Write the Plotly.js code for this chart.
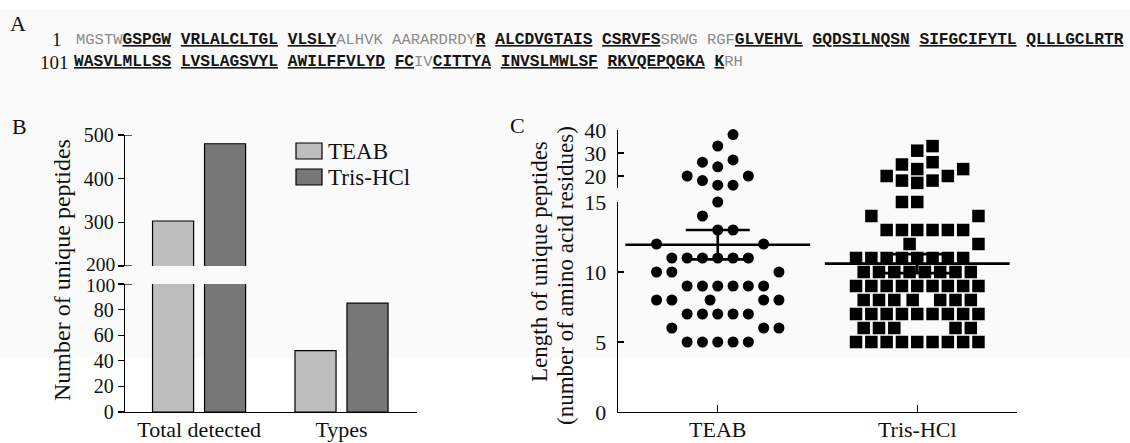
<!DOCTYPE html>
<html><head><meta charset="utf-8">
<script src="https://cdn.plot.ly/plotly-3.0.1.min.js"></script>
<style>html,body{margin:0;padding:0;background:#fff}#chart{width:1130px;height:443px}</style>
</head><body><div id="chart"></div>
<script>
// ---------- Panel B data ----------
const groups = ['Total detected', 'Types'];
const teabCounts = [303, 48];
const trisCounts = [480, 85];
const lowerTicks = [0, 20, 40, 60, 80, 100];
const lowerTickText = ['0', '20', '40', '60', '80', ''];
const upperTicks = [200, 300, 400, 500];
const upperTickText = ['', '300', '400', '500'];

// ---------- Panel C data (peptide lengths and dot-plot lane of each point) ----------
const dotCategories = ['TEAB', 'Tris-HCl'];
const teabLength = [38,33,26,24,27,20,20,18,16,16,
  15,14,13,13,12,12,
  11,11,11,11,11,11,
  10,10,10,
  9,9,9,9,9,9,
  8,8,8,8,8,
  7,7,7,7,7,
  6,6,6,
  5,5,5,5,5];
const teabLane = [1,0,-1,0,1,-2,2,-1,0,1,
  0,-1,0,1,-4,3,
  -3,-2,-1,0,1,2,
  -4,-3,4,
  -2,-1,0,1,2,3,
  -4,-3,-0.5,3,4,
  -2,-1,0,1,2,
  -3,3,4,
  -2,-1,0,1,2];
const trisLength = [33,31,25,23,26,20,20,23,18,17,18,
  15,15,14,14,
  13,13,13,13,13,13,
  12,12,
  11,11,11,11,11,11,11,11,
  10,10,10,10,10,10,10,10,
  9,9,9,9,9,9,9,9,9,
  8,8,8,8,8,8,8,
  7,7,7,7,7,7,7,7,7,
  6,6,6,6,6,
  5,5,5,5,5,5,5,5,5];
const trisLane = [1,0,-1,0,1,-2,2,3,-1,0,1,
  -1,0,-3,4,
  -2,-1,0,1,2,3,
  -0.5,4,
  -4,-3,-2,-1,0,1,2,3,
  -3.5,-2.5,-1.5,-0.5,0.5,1.5,2.5,3.5,
  -4,-3,-2,-1,0,1,2,3,4,
  -3.5,-2.5,-1.5,-0.3,1.5,2.5,3.5,
  -4,-3,-2,-1,0,1,2,3,4,
  -3.5,-2.5,-1.5,2.5,3.5,
  -4,-3,-2,-1,0,1,2,3,4];
const meanLength = [11.95, 10.6];
const semLength = [1.05, 0.68];

// ---------- Panel A sequence ----------
const seqLine1 = [['MGSTW','g'],['GSPGW','b'],[' ','s'],['VRLALCLTGL','b'],[' ','s'],['VLSLY','b'],['ALHVK AARARDRDY','g'],['R','b'],[' ','s'],
  ['ALCDVGTAIS','b'],[' ','s'],['CSRVFS','b'],['SRWG RGF','g'],['GLVEHVL','b'],[' ','s'],['GQDSILNQSN','b'],[' ','s'],['SIFGCIFYTL','b'],[' ','s'],['QLLLGCLRTR','b']];
const seqLine2 = [['WASVLMLLSS','b'],[' ','s'],['LVSLAGSVYL','b'],[' ','s'],['AWILFFVLYD','b'],[' ','s'],['FC','b'],['IV','g'],['CITTYA','b'],[' ','s'],
  ['INVSLMWLSF','b'],[' ','s'],['RKVQEPQGKA','b'],[' ','s'],['K','b'],['RH','g']];

const W = 1130, H = 443;
const px = x => x / W, py = y => 1 - y / H;
const SERIF = '"Liberation Serif", "Times New Roman", serif';

function seqHTML(parts) {
  return parts.map(([t, k]) => {
    if (k === 'b') return '<span style="font-family:\'Liberation Mono\',monospace;font-weight:bold;font-size:16.2px;text-decoration:underline;fill:#151515">' + t + '</span>';
    if (k === 'g') return '<span style="font-family:\'Liberation Mono\',monospace;font-size:15.5px;fill:#8a8a8a">' + t + '</span>';
    return '<span style="font-family:\'Liberation Mono\',monospace;font-size:16.2px">' + t + '</span>';
  }).join('');
}

const LANE = 0.0767;
const TEAB_FILL = '#bdbdbd', TRIS_FILL = '#777777';

const traces = [];
// Panel B bars on both segments of the broken axis
['y', 'y2'].forEach(ya => {
  traces.push({type: 'bar', name: 'TEAB', x: groups, y: teabCounts, xaxis: 'x', yaxis: ya,
    marker: {color: TEAB_FILL, line: {color: '#000', width: 1.2}}, hoverinfo: 'skip'});
  traces.push({type: 'bar', name: 'Tris-HCl', x: groups, y: trisCounts, xaxis: 'x', yaxis: ya,
    marker: {color: TRIS_FILL, line: {color: '#000', width: 1.2}}, hoverinfo: 'skip'});
});

// Panel C dots
function dotTrace(lengths, lanes, catIdx, top, symbol, size) {
  const xs = [], ys = [];
  lengths.forEach((v, i) => {
    if ((v > 15) === top) { xs.push(catIdx + lanes[i] * LANE); ys.push(v); }
  });
  return {type: 'scatter', mode: 'markers', x: xs, y: ys, xaxis: 'x2', yaxis: top ? 'y4' : 'y3',
    cliponaxis: false, marker: {symbol: symbol, size: size, color: '#000', line: {width: 0}}, hoverinfo: 'skip'};
}
traces.push(dotTrace(teabLength, teabLane, 0, false, 'circle', 11));
traces.push(dotTrace(teabLength, teabLane, 0, true, 'circle', 11));
traces.push(dotTrace(trisLength, trisLane, 1, false, 'square', 12.5));
traces.push(dotTrace(trisLength, trisLane, 1, true, 'square', 12.5));

// Mean +/- SEM
[0, 1].forEach(i => {
  traces.push({type: 'scatter', mode: 'markers', x: [i], y: [meanLength[i]], xaxis: 'x2', yaxis: 'y3', cliponaxis: false,
    marker: {symbol: 'line-ew', size: 132, color: '#000', line: {width: 2.6, color: '#000'}},
    error_y: {type: 'data', array: [semLength[i]], visible: true, width: i === 0 ? 32 : 35, thickness: 2.6, color: '#000'},
    hoverinfo: 'skip'});
});

const axBase = {showgrid: false, zeroline: false, showline: true, linecolor: '#000', linewidth: 1.3,
  tickcolor: '#000', tickwidth: 1.3, tickfont: {family: SERIF, size: 22, color: '#111'}, fixedrange: true};
const yTickFontB = {family: SERIF, size: 20, color: '#111'};

function ann(text, x, y, opts) {
  return Object.assign({text: text, x: px(x), y: py(y), xref: 'paper', yref: 'paper', showarrow: false,
    xanchor: 'center', yanchor: 'middle'}, opts || {});
}

const layout = {
  width: W, height: H,
  margin: {l: 0, r: 0, t: 0, b: 0},
  paper_bgcolor: '#ffffff', plot_bgcolor: 'rgba(0,0,0,0)',
  font: {family: SERIF, size: 22, color: '#111'},
  showlegend: false,
  barmode: 'group', bargap: 0.27, bargroupgap: 0.21,
  xaxis: Object.assign({}, axBase, {domain: [px(125), px(417)], anchor: 'y', range: [-0.52, 1.53], ticks: '', ticklabelstandoff: -3}),
  yaxis: Object.assign({}, axBase, {domain: [py(412), py(284)], anchor: 'x', range: [0, 100], tickvals: lowerTicks, ticktext: lowerTickText, ticks: 'outside', ticklen: 6, tickfont: yTickFontB}),
  yaxis2: Object.assign({}, axBase, {domain: [py(266), py(135)], anchor: 'x', range: [200, 500], tickvals: upperTicks, ticktext: upperTickText, ticks: 'outside', ticklen: 6, tickfont: yTickFontB}),
  xaxis2: Object.assign({}, axBase, {domain: [px(618), px(1017)], anchor: 'y3', range: [-0.5, 1.5], tickvals: [0, 1], ticktext: dotCategories, ticks: 'inside', ticklen: 7, ticklabelstandoff: -3}),
  yaxis3: Object.assign({}, axBase, {domain: [py(412), py(202)], anchor: 'x2', range: [0, 15], tickvals: [0, 5, 10, 15], ticks: 'inside', ticklen: 6, ticklabelstandoff: 6}),
  yaxis4: Object.assign({}, axBase, {domain: [py(187.5), py(130)], anchor: 'x2', range: [15, 40], tickvals: [15, 20, 30, 40], ticktext: ['', '20', '30', '40'], ticks: 'inside', ticklen: 6, ticklabelstandoff: 6}),
  shapes: [
    {type: 'rect', xref: 'paper', yref: 'paper', x0: 0, x1: 1, y0: py(358), y1: py(9), fillcolor: '#fafafa', line: {width: 0}, layer: 'below'},
    {type: 'line', xref: 'paper', yref: 'y2', x0: px(125), x1: px(132), y0: 500, y1: 500, line: {color: '#000', width: 1.3}},
    {type: 'line', xref: 'paper', yref: 'y2', x0: px(125), x1: px(132), y0: 200, y1: 200, line: {color: '#000', width: 1.3}},
    {type: 'line', xref: 'paper', yref: 'y', x0: px(125), x1: px(132), y0: 100, y1: 100, line: {color: '#000', width: 1.3}},
    {type: 'rect', xref: 'paper', yref: 'paper', x0: px(296), x1: px(322), y0: py(159), y1: py(143), fillcolor: TEAB_FILL, line: {color: '#000', width: 1.2}},
    {type: 'rect', xref: 'paper', yref: 'paper', x0: px(296), x1: px(322), y0: py(185), y1: py(169), fillcolor: TRIS_FILL, line: {color: '#000', width: 1.2}}
  ],
  annotations: [
    ann('A', 18, 24, {font: {size: 22}}),
    ann('B', 19, 127, {font: {size: 22}}),
    ann('C', 517, 125, {font: {size: 22}}),
    ann('1', 64, 40, {xanchor: 'right', font: {size: 19}}),
    ann('101', 71, 62, {xanchor: 'right', font: {size: 19}}),
    ann(seqHTML(seqLine1), 74, 40, {xanchor: 'left', align: 'left'}),
    ann(seqHTML(seqLine2), 72, 62, {xanchor: 'left', align: 'left'}),
    // end labels of the two broken-axis segments, set slightly apart so they do not collide
    ann(String(upperTicks[0]), 117, 264.2, {xanchor: 'right', font: {size: 19.5}}),
    ann(String(lowerTicks[lowerTicks.length - 1]), 117, 285.8, {xanchor: 'right', font: {size: 19.5}}),
    ann('Number of unique peptides', 62, 270, {textangle: -90, font: {size: 24}}),
    ann('Length of unique peptides', 539, 262, {textangle: -90, font: {size: 23}}),
    ann('(number of amino acid residues)', 565, 276, {textangle: -90, font: {size: 23}}),
    ann('TEAB', 326, 151, {xanchor: 'left', font: {size: 23}}),
    ann('Tris-HCl', 326, 177, {xanchor: 'left', font: {size: 23}})
  ]
};

Plotly.newPlot('chart', traces, layout, {staticPlot: true, displayModeBar: false});
</script>
</body></html>
